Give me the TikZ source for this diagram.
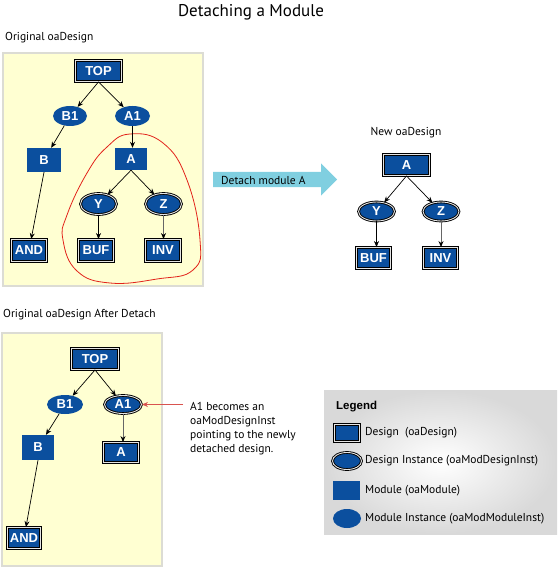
\documentclass[tikz,border=0pt]{standalone}
\usepackage{fontspec}
\setmainfont{PT Sans}
\newfontfamily\boxfont{Liberation Sans}
\usetikzlibrary{shapes.geometric,shapes.arrows,arrows.meta}
\definecolor{oablue}{HTML}{0B4F9E}
\definecolor{panel}{HTML}{FFFFD2}
\definecolor{panelline}{HTML}{DCDCD4}
\definecolor{detachcol}{HTML}{80CFE0}
\definecolor{calloutcol}{HTML}{D9534F}
\definecolor{loopcol}{HTML}{E2231A}

\tikzset{
  design/.style={rectangle,fill=oablue,draw=black,double=black!10,double distance=0.9pt,line width=0.9pt,
    inner sep=0pt,text=white,font=\boxfont\bfseries\fontsize{13}{13}\selectfont},
  dinst/.style={design,ellipse},
  module/.style={rectangle,fill=oablue,inner sep=0pt,text=white,font=\boxfont\bfseries\fontsize{13}{13}\selectfont},
  minst/.style={module,ellipse},
  link/.style={line width=0.7pt,-{Stealth[length=6pt,width=5pt]}},
  greylink/.style={line width=0.9pt,draw=black!60,-{Stealth[length=6pt,width=5pt,black]}},
  panelbox/.style={fill=panel,draw=panelline,line width=1.5pt},
  caption/.style={font=\fontsize{11.5}{14}\selectfont,inner sep=0pt}
}

\begin{document}
\begin{tikzpicture}[x=1pt,y=-1pt]
\useasboundingbox (0,0) rectangle (558,567);

\node[font=\fontsize{17}{20}\selectfont] (title) at (251,12) {Detaching a Module};

% original design
\node[caption,anchor=west] (origcap) at (5,38) {Original oaDesign};
\draw[panelbox] (3,53) rectangle (203,286);
\draw[loopcol,line width=0.8pt] plot[smooth cycle,tension=0.75] coordinates {(130,134) (163,143) (187,180) (200,240) (193,270) (157,279) (110,283) (77,271) (63,240) (67,215) (87,173) (107,147)};
\node[design,minimum width=46pt,minimum height=21pt] (TOP) at (98.5,71) {TOP};
\node[minst,minimum width=34pt,minimum height=20pt] (B1) at (70,116) {B1};
\node[minst,minimum width=35pt,minimum height=20pt] (A1) at (132.5,116) {A1};
\node[module,minimum width=34pt,minimum height=24pt] (B) at (44,160) {B};
\node[module,minimum width=32pt,minimum height=22pt] (A) at (131,159) {A};
\node[dinst,minimum width=36pt,minimum height=21pt] (Y) at (98.5,204) {Y};
\node[dinst,minimum width=36pt,minimum height=21pt] (Z) at (163.5,204) {Z};
\node[design,minimum width=35pt,minimum height=22pt] (AND) at (29,250.5) {AND};
\node[design,minimum width=35pt,minimum height=22pt] (BUF) at (96,250.5) {BUF};
\node[design,minimum width=35pt,minimum height=22pt] (INV) at (163,250.5) {INV};
\draw[link] (TOP.south) -- (B1);
\draw[link] (TOP.south) -- (A1);
\draw[link] (B1) -- (B);
\draw[link] (A1) -- (A1 |- A.north);
\draw[link] (B.south) -- (AND);
\draw[link] (A.south) -- (Y);
\draw[link] (A.south) -- (Z);
\draw[link] (Y) -- (Y |- BUF.north);
\draw[greylink] (Z) -- (Z |- INV.north);

% detach arrow
\node[single arrow,fill=detachcol,anchor=tail,minimum height=124pt,inner xsep=0pt,inner ysep=7.5pt,
  single arrow head extend=8.5pt] (detach) at (213,179.5) {};
\node[caption,anchor=west] (detachtext) at (221,180) {Detach module A};

% new design
\node[caption] (newcap) at (406,133) {New oaDesign};
\node[design,minimum width=46pt,minimum height=21pt] (nA) at (406.5,165) {A};
\node[dinst,minimum width=36pt,minimum height=19pt] (nY) at (376.5,211.5) {Y};
\node[dinst,minimum width=36pt,minimum height=19pt] (nZ) at (441,211.5) {Z};
\node[design,minimum width=34pt,minimum height=21pt] (nBUF) at (373.5,258) {BUF};
\node[design,minimum width=34pt,minimum height=21pt] (nINV) at (440.5,258) {INV};
\draw[link] (nA.south) -- (nY);
\draw[link] (nA.south) -- (nZ);
\draw[link] (nY) -- (nY |- nBUF.north);
\draw[greylink] (nZ) -- (nZ |- nINV.north);

% after detach
\node[caption,anchor=west] (aftercap) at (3,315) {Original oaDesign After Detach};
\draw[panelbox] (2,333) rectangle (162,566);
\node[design,minimum width=47pt,minimum height=21pt] (bTOP) at (95,359) {TOP};
\node[minst,minimum width=36pt,minimum height=19pt] (bB1) at (65,404.5) {B1};
\node[dinst,minimum width=37pt,minimum height=18pt] (bA1) at (123,404.5) {A1};
\node[module,minimum width=32pt,minimum height=25pt] (bB) at (38,447.5) {B};
\node[design,minimum width=35pt,minimum height=20pt] (bA) at (121,452.5) {A};
\node[design,minimum width=33pt,minimum height=21pt] (bAND) at (24,538) {AND};
\draw[link] (bTOP.south) -- (bB1);
\draw[link] (bTOP.south) -- (bA1);
\draw[link] (bB1) -- (bB);
\draw[greylink] (bA1) -- (bA1 |- bA.north);
\draw[link] (bB.south) -- (bAND);

% callout
\node[caption,anchor=north west,align=left] (note) at (190,402) {A1 becomes an\\oaModDesignInst\\pointing to the newly\\detached design.};
\coordinate (callout) at (183,404.5);
\draw[calloutcol,line width=0.9pt,-{Stealth[length=6pt,width=5pt]}] (callout) -- (bA1.east);

% legend
\node[rectangle,inner color=white,outer color=black!15,minimum width=233pt,minimum height=144pt] (legend) at (440.5,462) {};
\node[caption,anchor=west,font=\boxfont\bfseries\fontsize{11.5}{14}\selectfont] (legendtitle) at (336,407) {Legend};
\node[design,minimum width=25pt,minimum height=17pt] (legDesign) at (347,433) {};
\node[dinst,minimum width=29pt,minimum height=17pt] (legDInst) at (347,461) {};
\node[module,minimum width=27pt,minimum height=19pt] (legModule) at (346.5,490.5) {};
\node[minst,minimum width=28pt,minimum height=19pt] (legMInst) at (347,518.5) {};
\node[caption,anchor=west] at (365,433) {Design\ \ (oaDesign)};
\node[caption,anchor=west] at (365,461) {Design Instance (oaModDesignInst)};
\node[caption,anchor=west] at (365,490.5) {Module (oaModule)};
\node[caption,anchor=west] at (365,518.5) {Module Instance (oaModModuleInst)};
\end{tikzpicture}
\end{document}
